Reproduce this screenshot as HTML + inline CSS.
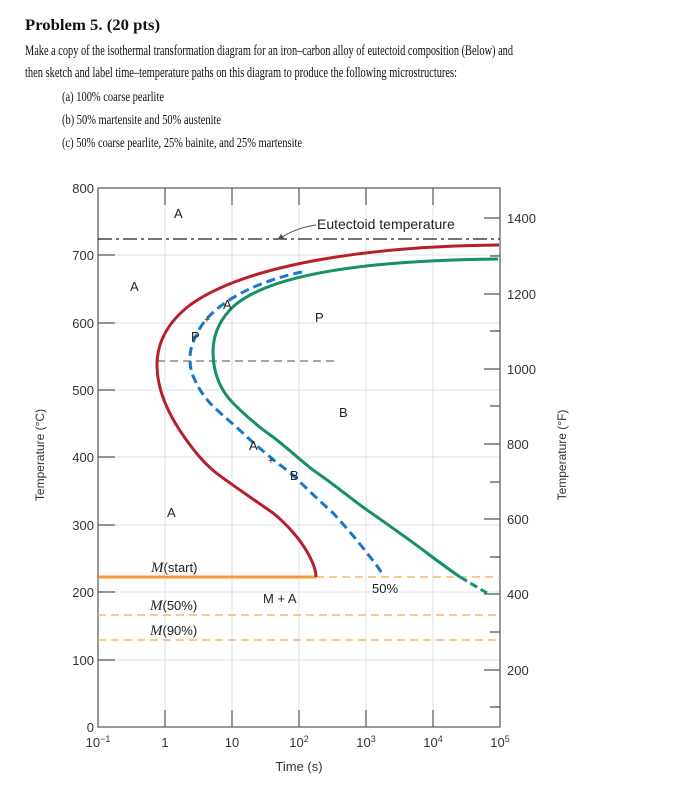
<!DOCTYPE html>
<html><head><meta charset="utf-8"><style>html,body{margin:0;padding:0;background:#fff}svg{display:block}</style></head>
<body>
<svg width="675" height="790" xmlns="http://www.w3.org/2000/svg">
<g font-family="Liberation Serif, serif" fill="#111">
<text x="25" y="30" font-size="16" font-weight="bold" textLength="135" lengthAdjust="spacingAndGlyphs">Problem 5. (20 pts)</text>
<text x="25" y="55" font-size="14.5" textLength="488" lengthAdjust="spacingAndGlyphs">Make a copy of the isothermal transformation diagram for an iron–carbon alloy of eutectoid composition (Below) and</text>
<text x="25" y="77" font-size="14.5" textLength="432" lengthAdjust="spacingAndGlyphs">then sketch and label time–temperature paths on this diagram to produce the following microstructures:</text>
<text x="62" y="101" font-size="13.5" textLength="102" lengthAdjust="spacingAndGlyphs">(a) 100% coarse pearlite</text>
<text x="62" y="124" font-size="13.5" textLength="159" lengthAdjust="spacingAndGlyphs">(b) 50% martensite and 50% austenite</text>
<text x="62" y="147" font-size="13.5" textLength="240" lengthAdjust="spacingAndGlyphs">(c) 50% coarse pearlite, 25% bainite, and 25% martensite</text>
</g>
<g stroke="#dde0e6" stroke-width="1">
<line x1="165" y1="188" x2="165" y2="727"/><line x1="232" y1="188" x2="232" y2="727"/><line x1="299" y1="188" x2="299" y2="727"/><line x1="366" y1="188" x2="366" y2="727"/><line x1="433" y1="188" x2="433" y2="727"/>
<line x1="98" y1="255" x2="500" y2="255"/><line x1="98" y1="323" x2="500" y2="323"/><line x1="98" y1="390" x2="500" y2="390"/><line x1="98" y1="457" x2="500" y2="457"/><line x1="98" y1="525" x2="500" y2="525"/><line x1="98" y1="592" x2="500" y2="592"/><line x1="98" y1="660" x2="500" y2="660"/>
</g>
<g stroke="#555" stroke-width="1.2" fill="none">
<rect x="98" y="188" width="402" height="539"/>
<path d="M165 188v17M232 188v17M299 188v17M366 188v17M433 188v17M165 727v-17M232 727v-17M299 727v-17M366 727v-17M433 727v-17"/>
<path d="M98 255h17M98 323h17M98 390h17M98 457h17M98 525h17M98 592h17M98 660h17"/>
<path d="M484 218h16M484 294h16M484 369h16M484 444h16M484 519h16M484 594h16M484 670h16M490 256h10M490 331h10M490 406h10M490 482h10M490 557h10M490 632h10M490 707h10"/>
</g>
<line x1="98" y1="239" x2="500" y2="239" stroke="#222" stroke-width="1.2" stroke-dasharray="14,4,3,4"/>
<path d="M316 225 Q295 228 279 239" stroke="#555" fill="none" stroke-width="1"/>
<path d="M277 240 l7 -2 l-3 -4z" fill="#555"/>
<line x1="157" y1="361" x2="339" y2="361" stroke="#888" stroke-width="1.5" stroke-dasharray="8,5"/>
<line x1="98" y1="577" x2="316" y2="577" stroke="#f39a3a" stroke-width="3"/>
<line x1="316" y1="577" x2="500" y2="577" stroke="#f8b56a" stroke-width="1.5" stroke-dasharray="8,5"/>
<line x1="98" y1="615" x2="500" y2="615" stroke="#f8b56a" stroke-width="1.5" stroke-dasharray="8,5"/>
<line x1="98" y1="640" x2="500" y2="640" stroke="#f8b56a" stroke-width="1.5" stroke-dasharray="8,5"/>
<path d="M499 245 C380 246 250 262 190 305 C163 326 157 348 157 365 C157 385 165 410 185 438 C195 452 203 462 215 472 C225 480 250 497 273 513 C288 525 300 540 306 550 C312 560 316 570 316 577" stroke="#b5202a" stroke-width="3" fill="none"/>
<path d="M498 259 C400 260 280 268 235 305 C216 322 213 340 213 352 C213 375 222 392 233 403 C248 418 260 428 273 437 C290 450 300 460 313 470 C335 485 350 498 367 510 C390 526 410 540 427 553 C440 563 450 570 460 577" stroke="#15906a" stroke-width="3" fill="none"/>
<path d="M460 577 L487 593" stroke="#15906a" stroke-width="3" fill="none" stroke-dasharray="8,4"/>
<path d="M302 272 C262 280 217 300 200 328 C192 342 190 350 190 358 C190 366 191 372 194 378 C200 392 208 402 217 410 C228 420 238 428 247 437 C258 447 270 457 280 465 C288 471 292 474 296 478 C310 492 322 503 333 513 C345 526 357 540 367 553 C374 562 379 568 383 575" stroke="#1a78c8" stroke-width="3" fill="none" stroke-dasharray="9,5"/>
<g font-family="Liberation Sans, sans-serif" fill="#222" font-size="13">
<text x="174" y="218">A</text><text x="130" y="291">A</text><text x="223" y="309">A</text>
<text x="204" y="323" font-size="10">+</text><text x="191" y="341">P</text>
<text x="315" y="322">P</text><text x="339" y="417">B</text>
<text x="249" y="450">A</text><text x="268" y="464" font-size="10">+</text><text x="290" y="480">B</text>
<text x="167" y="517">A</text>
<text x="372" y="593">50%</text><text x="263" y="603">M + A</text>
<text x="317" y="229" font-size="14">Eutectoid temperature</text>
<text x="151" y="572"><tspan font-family="Liberation Serif, serif" font-style="italic" font-size="15">M</tspan>(start)</text>
<text x="150" y="610"><tspan font-family="Liberation Serif, serif" font-style="italic" font-size="15">M</tspan>(50%)</text>
<text x="150" y="635"><tspan font-family="Liberation Serif, serif" font-style="italic" font-size="15">M</tspan>(90%)</text>
</g>
<g font-family="Liberation Sans, sans-serif" fill="#333" font-size="13">
<g text-anchor="end">
<text x="94" y="193">800</text><text x="94" y="260">700</text><text x="94" y="328">600</text><text x="94" y="395">500</text><text x="94" y="462">400</text><text x="94" y="530">300</text><text x="94" y="597">200</text><text x="94" y="665">100</text><text x="94" y="732">0</text>
</g>
<text x="507" y="223">1400</text><text x="507" y="299">1200</text><text x="507" y="374">1000</text><text x="507" y="449">800</text><text x="507" y="524">600</text><text x="507" y="599">400</text><text x="507" y="675">200</text>
<g text-anchor="middle">
<text x="98" y="747">10<tspan dy="-5" font-size="9">−1</tspan></text>
<text x="165" y="747">1</text><text x="232" y="747">10</text>
<text x="299" y="747">10<tspan dy="-5" font-size="9">2</tspan></text>
<text x="366" y="747">10<tspan dy="-5" font-size="9">3</tspan></text>
<text x="433" y="747">10<tspan dy="-5" font-size="9">4</tspan></text>
<text x="500" y="747">10<tspan dy="-5" font-size="9">5</tspan></text>
<text x="299" y="771">Time (s)</text>
<text transform="translate(44,455) rotate(-90)" font-size="12">Temperature (°C)</text>
<text transform="translate(566,455) rotate(-90)" font-size="12">Temperature (°F)</text>
</g>
</g>
</svg>
</body></html>
